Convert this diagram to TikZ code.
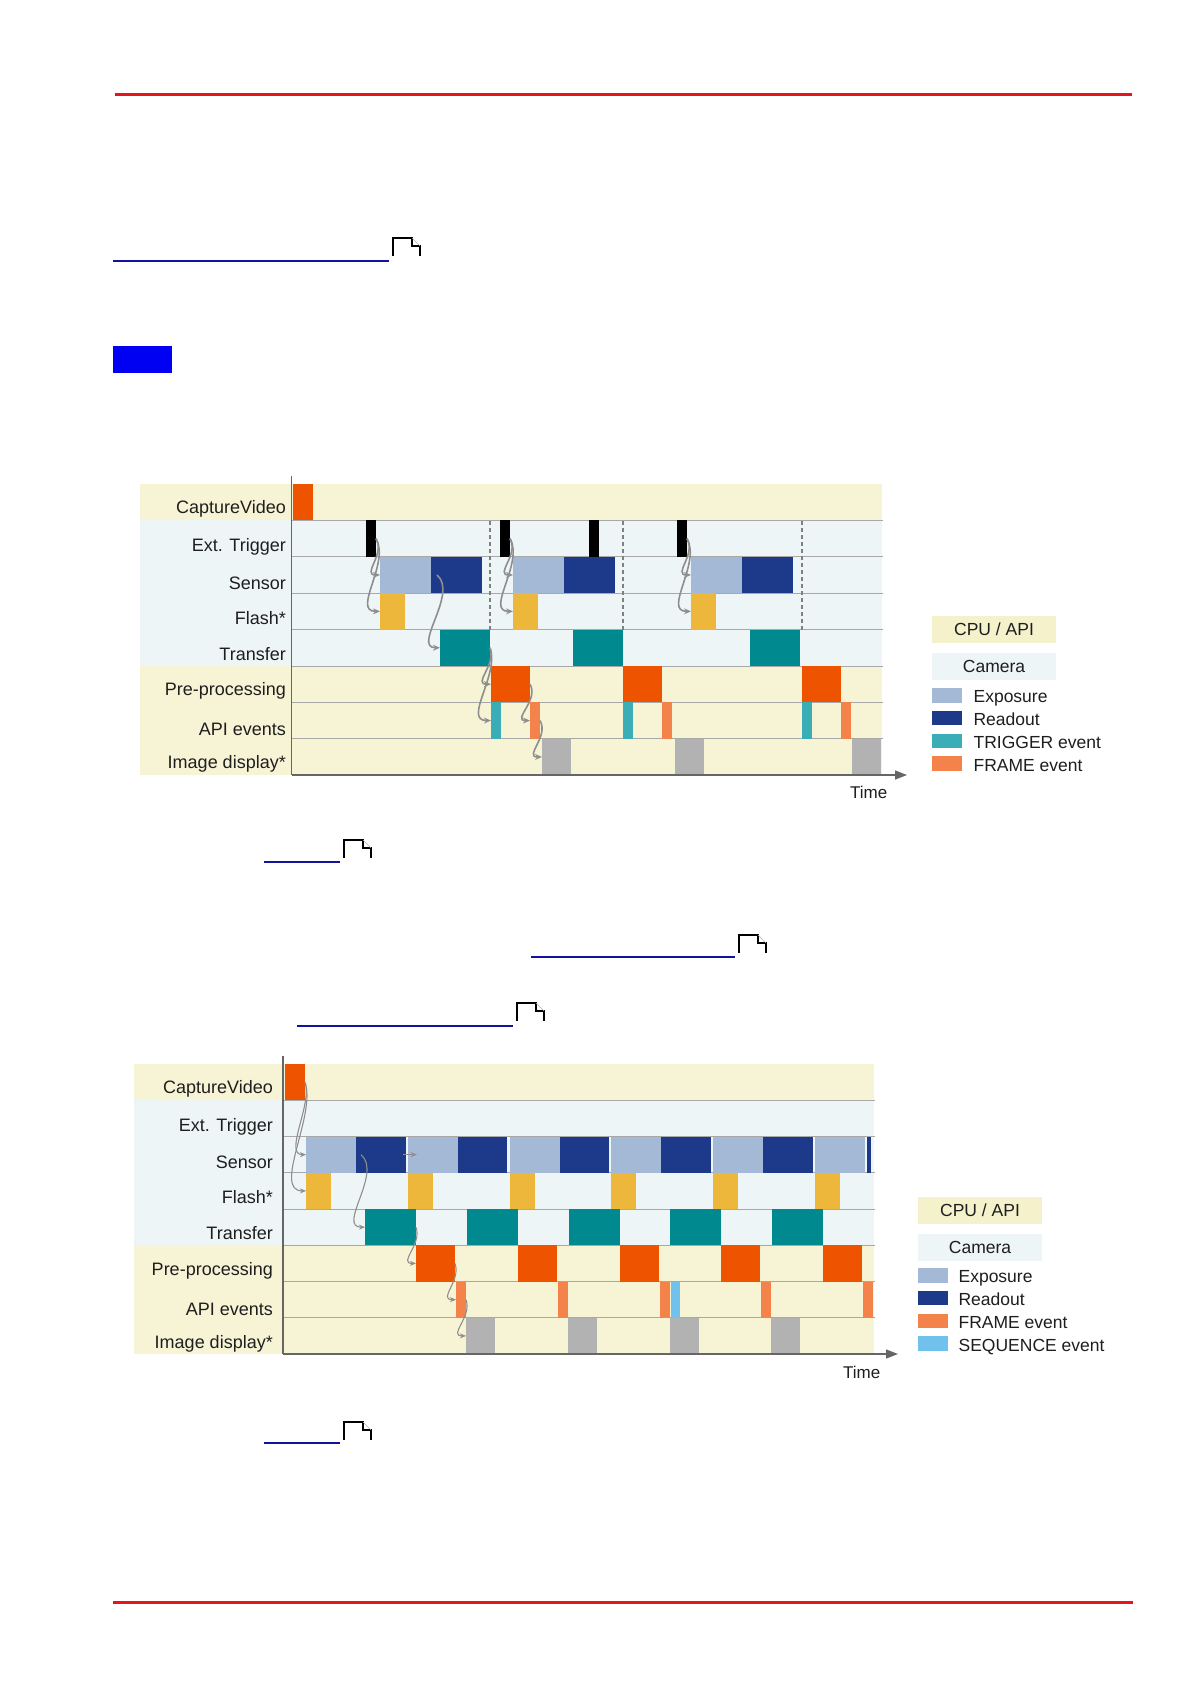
\documentclass[tikz,border=0pt]{standalone}
\usepackage{fontspec}
\setmainfont{Liberation Sans}
\usetikzlibrary{arrows.meta,positioning}

\definecolor{cpubg}{HTML}{F7F4D6}
\definecolor{cpuleg}{HTML}{F4F1CB}
\definecolor{cambg}{HTML}{EEF5F7}
\definecolor{procred}{HTML}{EE5300}
\definecolor{expo}{HTML}{A3B9D6}
\definecolor{readout}{HTML}{1D398A}
\definecolor{flash}{HTML}{ECB73B}
\definecolor{transfer}{HTML}{008A8F}
\definecolor{trigev}{HTML}{3BADB6}
\definecolor{frameev}{HTML}{F3834B}
\definecolor{seqev}{HTML}{70C2EC}
\definecolor{display}{HTML}{B2B2B2}
\definecolor{rowline}{HTML}{A8A8A8}
\definecolor{flowgray}{HTML}{8E8E8E}
\definecolor{labeltext}{HTML}{1E1E1E}
\definecolor{pagered}{HTML}{E8131B}
\definecolor{linkblue}{HTML}{12129C}

% block in a time row: name, colour, from, to, row top
\newcommand{\blk}[5]{\node[blk, fill=#2, minimum width={((#4)-(#3))*1pt}] (#1) at ({#3},#5) {};}
% little page icon behind a link, lower left corner
\newcommand{\docicon}[2]{%
  \draw[line width=1.3pt] (#1,#2) -- ++(0,-18) -- ++(19,0) -- ++(0,8) -- ++(8,0) -- ++(0,10);
  \draw[gray!60, line width=0.6pt] (#1+19,#2-18) -- ++(8,8);}

\begin{document}
\begin{tikzpicture}[x=1pt, y=-1pt,
    blk/.style={rectangle, inner sep=0pt, outer sep=0pt, anchor=north west, minimum height=36.3pt},
    lbl/.style={anchor=base east, inner sep=0pt, text=labeltext, font=\fontsize{18}{20}\selectfont},
    legtxt/.style={anchor=base west, inner sep=0pt, text=labeltext, font=\fontsize{17.5}{20}\selectfont},
    legbox/.style={rectangle, inner sep=0pt, minimum width=124pt, minimum height=27pt, text=labeltext, font=\fontsize{17.5}{20}\selectfont},
    swatch/.style={rectangle, inner sep=0pt, anchor=north west, minimum width=30pt, minimum height=14.5pt},
    rowsep/.style={draw=rowline, line width=0.9pt},
    axisline/.style={draw=black!60, line width=1.3pt},
    trigsep/.style={draw=gray, line width=1.4pt, dash pattern=on 4pt off 3pt},
    flow/.style={draw=flowgray, line width=1.6pt, -{Stealth[length=7pt,width=6pt]}},
    flowb/.style={draw=flowgray, line width=1.1pt, -{Stealth[length=6pt,width=5pt]}},
    linkline/.style={draw=linkblue, line width=1.8pt}]

\useasboundingbox (0,0) rectangle (1190,1684);
\fill[white] (0,0) rectangle (1190,1684);

% page frame
\draw[pagered, line width=3pt] (115,94.5) -- (1132,94.5);
\draw[pagered, line width=3pt] (113,1602) -- (1133,1602);
\draw[linkline] (113,261) -- (389,261); \docicon{393}{256}
\fill[blue!95!black] (113,346) rectangle (172,373);
\draw[linkline] (264,862) -- (340,862); \docicon{344}{858}
\draw[linkline] (531,957) -- (735,957); \docicon{739}{953}
\draw[linkline] (297,1026) -- (513,1026); \docicon{517}{1021}
\draw[linkline] (264,1443) -- (340,1443); \docicon{344}{1440}

% ---- first chart: external trigger ----
\fill[cpubg] (140,484) rectangle (882,520.4);
\fill[cambg] (140,520.4) rectangle (882,666);
\fill[cpubg] (140,666) rectangle (882,775);
\foreach \y in {520.4,556.8,593.2,629.6,666,702.4,738.8}
  \draw[rowsep] (292,\y) -- (883,\y);

\node[lbl] (acv) at (286,513) {CaptureVideo};
\node[lbl] (aet) at (286,551) {Ext. Trigger};
\node[lbl] (ase) at (286,589) {Sensor};
\node[lbl] (afl) at (286,624) {Flash*};
\node[lbl] (atf) at (286,660) {Transfer};
\node[lbl] (app) at (286,695) {Pre-processing};
\node[lbl] (aap) at (286,735) {API events};
\node[lbl] (aid) at (286,768) {Image display*};

\blk{cv}{procred}{293}{313}{484}
\foreach \n/\x in {1/366,2/500,3/589,4/677}
  \blk{tr\n}{black}{\x}{\x+10}{520.4}
\foreach \n/\x in {1/380,2/513,3/691} {
  \blk{ex\n}{expo}{\x}{\x+51}{556.8}
  \blk{ro\n}{readout}{\x+51}{\x+102}{556.8}
  \blk{fl\n}{flash}{\x}{\x+25}{593.2}
}
\foreach \n/\x in {1/440,2/573,3/750}
  \blk{tf\n}{transfer}{\x}{\x+50}{629.6}
\foreach \n/\x/\d in {1/491/542,2/623/675,3/802/852} {
  \blk{pp\n}{procred}{\x}{\x+39}{666}
  \blk{te\n}{trigev}{\x}{\x+10}{702.4}
  \blk{fe\n}{frameev}{\x+39}{\x+49}{702.4}
  \blk{id\n}{display}{\d}{\d+29}{738.8}
}
\foreach \x in {490,623,802}
  \draw[trigsep] (\x,521) -- (\x,629.6);

\coordinate (o1) at (291.7,775);
\coordinate (top1) at (291.7,476);
\coordinate (end1) at (907,775);
\draw[axisline] (top1) -- (o1);
\draw[axisline, -{Triangle[length=12pt,width=9pt]}] (o1) -- (end1);
\node[legtxt, font=\fontsize{17}{20}\selectfont] (time1) at (850,798) {Time};

\foreach \a/\b in {1/1,2/2,4/3} {
  \draw[flow] (tr\a.east) to[out=-60,in=180,looseness=1.3] (ex\b.west);
  \draw[flow] (tr\a.east) to[out=-60,in=180] (fl\b.west);
}
\draw[flow] ([xshift=6pt]ro1.west) to[out=-40,in=180] (tf1.west);
\draw[flow] (tf1.east) to[out=-70,in=180,looseness=1.3] (pp1.west);
\draw[flow] (tf1.east) to[out=-70,in=180] (te1.west);
\draw[flow] (pp1.east) to[out=-60,in=180,looseness=1.3] (fe1.west);
\draw[flow] (fe1.east) to[out=-60,in=180,looseness=1.3] (id1.west);

% legend
\node[legbox, fill=cpuleg] (k1cpu) at (994,629) {CPU / API};
\node[legbox, fill=cambg] (k1cam) at (994,666.5) {Camera};
\node[swatch, fill=expo] (k1ex) at (932,688) {};
\node[swatch, fill=readout, below=7.8pt of k1ex] (k1ro) {};
\node[swatch, fill=trigev, below=7.8pt of k1ro] (k1te) {};
\node[swatch, fill=frameev, below=7.8pt of k1te] (k1fe) {};
\node[legtxt] at ([xshift=11pt]k1ex.south east) {Exposure};
\node[legtxt] at ([xshift=11pt]k1ro.south east) {Readout};
\node[legtxt] at ([xshift=11pt]k1te.south east) {TRIGGER event};
\node[legtxt] at ([xshift=11pt]k1fe.south east) {FRAME event};

% ---- second chart: free run ----
\fill[cpubg] (134,1064) rectangle (874,1100.25);
\fill[cambg] (134,1100.25) rectangle (874,1245.25);
\fill[cpubg] (134,1245.25) rectangle (874,1354);
\foreach \y in {1100.25,1136.5,1172.75,1209,1245.25,1281.5,1317.75}
  \draw[rowsep] (284,\y) -- (875,\y);

\node[lbl] (bcvl) at (273,1093) {CaptureVideo};
\node[lbl] (betl) at (273,1131) {Ext. Trigger};
\node[lbl] (bsel) at (273,1168) {Sensor};
\node[lbl] (bfll) at (273,1203) {Flash*};
\node[lbl] (btfl) at (273,1239) {Transfer};
\node[lbl] (bppl) at (273,1275) {Pre-processing};
\node[lbl] (bapl) at (273,1315) {API events};
\node[lbl] (bidl) at (273,1348) {Image display*};

\blk{bcv}{procred}{285}{305}{1064}
\foreach \i in {0,...,5} {
  \pgfmathsetmacro\x{306+101.8*\i}
  \blk{bex\i}{expo}{\x}{\x+50}{1136.5}
  \blk{bfl\i}{flash}{\x}{\x+25}{1172.75}
}
\foreach \i in {0,...,4} {
  \pgfmathsetmacro\x{306+101.8*\i}
  \blk{bro\i}{readout}{\x+50}{\x+99.5}{1136.5}
  \blk{btf\i}{transfer}{\x+59}{\x+110}{1209}
  \blk{bpp\i}{procred}{\x+110}{\x+149}{1245.25}
  \blk{bfe\i}{frameev}{\x+150}{\x+160}{1281.5}
}
\blk{bro5}{readout}{867}{871}{1136.5}
\blk{bsq}{seqev}{671}{680}{1281.5}
\foreach \i in {0,...,3} {
  \pgfmathsetmacro\x{466+101.8*\i}
  \blk{bid\i}{display}{\x}{\x+29}{1317.75}
}

\coordinate (o2) at (283,1354);
\coordinate (top2) at (283,1056);
\coordinate (end2) at (898,1354);
\draw[axisline] (top2) -- (o2);
\draw[axisline, -{Triangle[length=12pt,width=9pt]}] (o2) -- (end2);
\node[legtxt, font=\fontsize{17}{20}\selectfont] (time2) at (843,1378) {Time};

\draw[flowb] (bcv.east) to[out=-70,in=180,looseness=0.8] (bex0.west);
\draw[flowb] (bcv.east) to[out=-70,in=180,looseness=0.8] (bfl0.west);
\draw[flowb] ([xshift=5pt]bro0.west) to[out=-40,in=180] (btf0.west);
\draw[flowb] ([xshift=-3pt]bro0.east) -- ([xshift=9pt]bex1.west);
\draw[flowb] (btf0.east) to[out=-70,in=180,looseness=1.3] (bpp0.west);
\draw[flowb] (bpp0.east) to[out=-70,in=180,looseness=1.3] (bfe0.west);
\draw[flowb] (bfe0.east) to[out=-70,in=180,looseness=1.3] (bid0.west);

% legend
\node[legbox, fill=cpuleg] (k2cpu) at (980,1210) {CPU / API};
\node[legbox, fill=cambg] (k2cam) at (980,1247) {Camera};
\node[swatch, fill=expo] (k2ex) at (918,1268) {};
\node[swatch, fill=readout, below=7.8pt of k2ex] (k2ro) {};
\node[swatch, fill=frameev, below=7.8pt of k2ro] (k2fe) {};
\node[swatch, fill=seqev, below=7.8pt of k2fe] (k2sq) {};
\node[legtxt] at ([xshift=10pt]k2ex.south east) {Exposure};
\node[legtxt] at ([xshift=10pt]k2ro.south east) {Readout};
\node[legtxt] at ([xshift=10pt]k2fe.south east) {FRAME event};
\node[legtxt] at ([xshift=10pt]k2sq.south east) {SEQUENCE event};
\end{tikzpicture}
\end{document}
